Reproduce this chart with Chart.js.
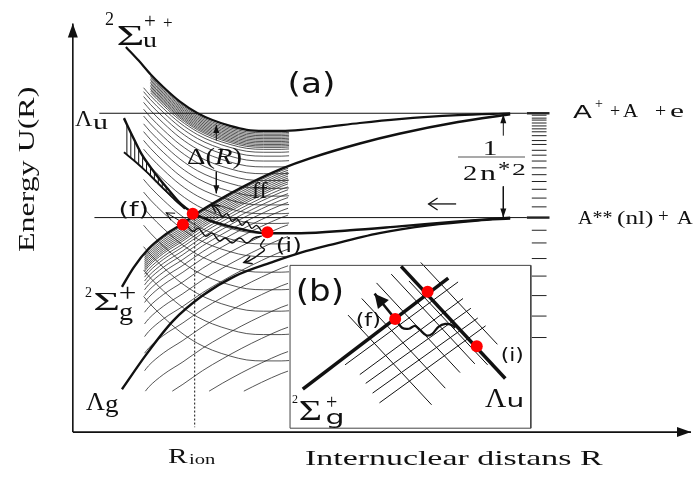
<!DOCTYPE html>
<html>
<head>
<meta charset="utf-8">
<script src="https://cdn.jsdelivr.net/npm/chart.js@4.4.1/dist/chart.umd.min.js"></script>
<style>html,body{margin:0;background:#fff}</style>
</head>
<body>
<canvas id="chart" width="698" height="481"></canvas>
<script>
// potential curves, as (R, U) pairs in diagram units
const sigmaU = [[122,42],[135,56],[147,70],[160,83],[177,98],[195,110],[210,117],[228,123],[245,127],[262,128],[280,128],[300,127],[327,124],[360,120],[400,116],[460,112],[513,110]];
const lambdaU = [[120,115],[128,132],[138,152],[152,172],[165,188],[178,203],[190,212],[205,219],[220,224],[240,229],[265,233],[300,233],[350,230],[400,226],[460,221],[513,217]];
const lambdaUInner = [[120,150],[132,160],[145,172],[158,185],[172,199],[182,208]];
const sigmaG = [[118,288],[130,268],[145,249],[160,236],[180,223],[200,209],[220,197],[240,186],[260,176],[280,167],[310,156],[360,141],[400,131],[460,119],[513,111]];
const lambdaG = [[118,393],[143,357],[170,323],[200,297],[233,277],[273,262],[300,253],[330,245],[380,233],[430,225],[480,220],[513,218]];

// energy levels: ionisation limit, A**(nl)+A limit, Rydberg ladder below the limit
const ionLimit = 110;
const atomLimit = 217;
const ladder = [0,2,5,7,10,13,16,19,23,28,32,38,43,49,56,63,70,78,87,96,107,120,133,149,167,187,208,230];

// Rydberg copies of the two ionic curves (shift below the curve)
const rydbergU = [2,3.5,5,6.5,8,9.5,11,12.5,14,15.5,17,19,22,26,31,37,44,51,59,67,76,85,95,105,116,129,145,163,185,209,236];
const rydbergG = [2,4,6,8,10,12,14,16,18,21,24,28,32,37,43,50,60,72,85,102,120,142,165,190,210];
const hatchR = [123,127,131,135,139,143,147,151,155,159,163,167,171,175,179];

// transition points and paths
const rIon = 192;
const crossings = [[190,213],[180,224],[266,232]];
const ffPath = [[260,231],[255,225],[250,228],[245,221],[240,225],[235,218],[230,221],[225,213],[220,216],[215,208],[209,204]];
const emitPath = [[184,225],[190,231],[196,228],[203,236],[210,233],[217,241],[223,238],[230,243],[238,238],[245,243],[252,238],[260,236]];
const downPath = [[263,239],[259,246],[263,250],[257,255],[253,258],[248,261],[242,263]];

// inset (b)
const insetSigma = [[302,393],[450,279]];
const insetLambda = [[402,267],[508,382]];
const insetDots = [[429,293],[396,321],[479,349]];
const insetPath = [[397,322],[403,330],[410,331],[416,328],[421,332],[428,338],[434,336],[440,329],[447,326],[453,327],[457,330]];
const insetGridA = [[[345,368],[460,283]],[[360,378],[465,300]],[[366,387],[473,310]],[[373,397],[480,320]],[[380,407],[488,328]]];
const insetGridB = [[[348,317],[433,409]],[[362,300],[447,392]],[[377,284],[462,376]],[[392,275],[477,367]],[[410,282],[490,368]],[[422,263],[500,347]]];

const xy = a => a.map(([x, y]) => ({x, y}));
const interp = (pts, x) => {
  for (let i = 0; i < pts.length - 1; i++) {
    const [x0, y0] = pts[i], [x1, y1] = pts[i + 1];
    if (x >= x0 && x <= x1) return y0 + (y1 - y0) * (x - x0) / (x1 - x0);
  }
  return null;
};
function shifted(base, dy, x0, x1, yMax) {
  const xs = [x0, ...base.map(p => p[0]).filter(x => x > x0 && x < x1), x1];
  const pts = xs.map(x => ({x, y: interp(base, x) + dy}));
  if (yMax === undefined) return pts;
  const out = [];
  pts.forEach((p, i) => {
    const q = pts[i - 1];
    if (q && (q.y > yMax) !== (p.y > yMax)) {
      const t = (yMax - q.y) / (p.y - q.y);
      out.push({x: q.x + t * (p.x - q.x), y: yMax});
    }
    if (p.y <= yMax) out.push(p);
  });
  return out;
}

const line = (data, o) => Object.assign({data, showLine: true, pointRadius: 0, borderColor: '#111', borderWidth: 1, tension: 0, fill: false}, o || {});
const curve = (data, w) => line(xy(data), {borderWidth: w, cubicInterpolationMode: 'monotone', order: 1});
const thin = {borderWidth: 0.8, borderColor: '#2a2a2a', cubicInterpolationMode: 'monotone', order: 3};

const datasets = [];
datasets.push({data: xy(crossings), showLine: false, pointRadius: 6, pointBackgroundColor: '#f00', pointBorderWidth: 0, order: 0});
datasets.push({data: xy(insetDots), showLine: false, pointRadius: 6, pointBackgroundColor: '#f00', pointBorderWidth: 0, order: 0});

datasets.push(curve(sigmaU, 2.2), curve(lambdaU, 2.4), curve(lambdaUInner, 1.8), curve(sigmaG, 2.4), curve(lambdaG, 2.4));

rydbergU.forEach(d => datasets.push(line(shifted(sigmaU, d, d < 20 ? 147 : 140, 288), thin)));
rydbergG.forEach(d => datasets.push(line(shifted(sigmaG, d, 141, 287, 395), thin)));
hatchR.forEach(r => datasets.push(line([{x: r, y: interp(lambdaUInner, r)}, {x: r, y: interp(lambdaU, r)}], {borderWidth: 1, order: 2})));

// reference levels and ladder
datasets.push(line([{x: 95, y: ionLimit}, {x: 530, y: ionLimit}], {borderWidth: 1, order: 2}));
datasets.push(line([{x: 90, y: atomLimit}, {x: 530, y: atomLimit}], {borderWidth: 1, order: 2}));
ladder.forEach(d => {
  const main = d === 0 || d === atomLimit - ionLimit;
  datasets.push(line([{x: main ? 530 : 535, y: ionLimit + d}, {x: main ? 553 : 550, y: ionLimit + d}], {borderWidth: main ? 2.4 : 1, borderColor: '#222', order: 2}));
});
datasets.push(line([{x: rIon, y: 218}, {x: rIon, y: 432}], {borderWidth: 1, borderDash: [2, 2], order: 2}));

// arrows
datasets.push(line([{x: 68, y: 437}, {x: 68, y: 18}], {borderWidth: 1.6, arrow: {len: 14, half: 5, fill: true}}));
datasets.push(line([{x: 68, y: 437}, {x: 697, y: 437}], {borderWidth: 1.6, arrow: {len: 14, half: 5, fill: true}}));
datasets.push(line([{x: 214, y: 138}, {x: 214, y: 122}], {borderWidth: 1, arrow: {len: 8, half: 3, fill: true}}));
datasets.push(line([{x: 214, y: 170}, {x: 214, y: 192}], {borderWidth: 1, arrow: {len: 8, half: 3, fill: true}}));
datasets.push(line([{x: 506, y: 133}, {x: 506, y: 111}], {borderWidth: 1, arrow: {len: 9, half: 3, fill: true}}));
datasets.push(line([{x: 506, y: 185}, {x: 506, y: 217}], {borderWidth: 1, arrow: {len: 9, half: 3, fill: true}}));
datasets.push(line([{x: 458, y: 203}, {x: 430, y: 203}], {borderWidth: 1.3, arrow: {len: 9, half: 6}}));
datasets.push(line([{x: 178, y: 221}, {x: 163, y: 212}], {borderWidth: 1, arrow: {len: 8, half: 4}}));
datasets.push(line(xy(ffPath), {borderWidth: 1.4, tension: 0.4, arrow: {len: 8, half: 4}}));
datasets.push(line(xy(emitPath), {borderWidth: 1.4, tension: 0.4}));
datasets.push(line(xy(downPath), {borderWidth: 1.4, tension: 0.4, arrow: {len: 8, half: 4}}));

// inset
datasets.push(line([{x: 289, y: 266}, {x: 534, y: 266}, {x: 534, y: 433}, {x: 289, y: 433}, {x: 289, y: 266}], {borderWidth: 1, borderColor: '#444', order: 2}));
datasets.push(line(xy(insetSigma), {borderWidth: 3.5, order: 1}));
datasets.push(line(xy(insetLambda), {borderWidth: 3.5, order: 1}));
insetGridA.concat(insetGridB).forEach(s => datasets.push(line(xy(s), {borderWidth: 1, order: 2})));
datasets.push(line([{x: 396, y: 321}, {x: 375, y: 295}], {borderWidth: 2.5, arrow: {len: 14, half: 7, fill: true}}));
datasets.push(line(xy(insetPath), {borderWidth: 2.2, tension: 0.3}));

const arrowHeads = {
  id: 'arrowHeads',
  afterDatasetsDraw(chart) {
    const ctx = chart.ctx;
    chart.data.datasets.forEach((ds, i) => {
      if (!ds.arrow) return;
      const pts = chart.getDatasetMeta(i).data;
      const a = pts[pts.length - 2], b = pts[pts.length - 1];
      const ang = Math.atan2(b.y - a.y, b.x - a.x);
      const {len, half, fill} = ds.arrow;
      ctx.save();
      ctx.translate(b.x, b.y); ctx.rotate(ang);
      ctx.beginPath(); ctx.moveTo(-len, -half); ctx.lineTo(0, 0); ctx.lineTo(-len, half);
      ctx.strokeStyle = '#111'; ctx.fillStyle = '#111'; ctx.lineWidth = ds.borderWidth;
      if (fill) { ctx.closePath(); ctx.fill(); } else ctx.stroke();
      ctx.restore();
    });
  }
};

const SERIF = 'Liberation Serif', SANS = 'DejaVu Sans';
function put(ctx, t, x, y, font, w, rot) {
  ctx.save();
  ctx.font = font; ctx.fillStyle = '#111'; ctx.textBaseline = 'alphabetic';
  const m = ctx.measureText(t);
  const ink = m.actualBoundingBoxRight + m.actualBoundingBoxLeft;
  const s = w ? w / ink : 1;
  ctx.translate(x, y);
  if (rot) ctx.rotate(rot);
  ctx.scale(s, 1);
  ctx.fillText(t, m.actualBoundingBoxLeft, 0);
  ctx.restore();
}
function runs(ctx, parts, x, y, w) {
  let total = 0;
  parts.forEach(([t, f]) => { ctx.font = f; total += ctx.measureText(t).width; });
  const s = w / total;
  ctx.save(); ctx.translate(x, y); ctx.scale(s, 1); ctx.fillStyle = '#111';
  let cx = 0;
  parts.forEach(([t, f]) => { ctx.font = f; ctx.fillText(t, cx, 0); cx += ctx.measureText(t).width; });
  ctx.restore();
}

const labels = {
  id: 'labels',
  afterDraw(chart) {
    const ctx = chart.ctx;
    const sf = px => px + 'px "' + SERIF + '"', ss = px => px + 'px "' + SANS + '"';
    // 2Σu+ +
    put(ctx, '2', 105, 25, sf(18));
    put(ctx, 'Σ', 118, 45, sf(30), 24);
    put(ctx, '+', 145, 28, sf(21));
    put(ctx, '+', 163, 28, sf(17));
    put(ctx, 'u', 143, 47, sf(22), 14);
    // Λu
    put(ctx, 'Λ', 75, 126, sf(24), 18);
    put(ctx, 'u', 93, 129, sf(22), 15);
    // 2Σg+
    put(ctx, '2', 85, 297, sf(14));
    put(ctx, 'Σ', 95, 310, sf(26), 23);
    put(ctx, '+', 120, 301, sf(25), 15);
    put(ctx, 'g', 120, 320, sf(26), 13);
    // Λg
    put(ctx, 'Λ', 86, 410, sf(26), 19);
    put(ctx, 'g', 106, 412, sf(25), 13);
    // panel labels
    put(ctx, '(a)', 290, 93, ss(28), 43);
    put(ctx, '(f)', 120, 216, ss(19), 27);
    put(ctx, '(i)', 277, 252, ss(19), 23);
    put(ctx, 'ff', 252, 198, sf(23), 16);
    runs(ctx, [['Δ(', sf(24)], ['R', 'italic ' + sf(24)], [')', sf(24)]], 187, 164, 55);
    // limits
    put(ctx, 'A', 573, 118, ss(18), 20);
    put(ctx, '+', 595, 108, sf(14), 8);
    put(ctx, '+', 610, 117, sf(18), 10);
    put(ctx, 'A', 623, 117, sf(18), 15);
    put(ctx, '+', 655, 117, sf(18), 11);
    put(ctx, 'e', 670, 117, sf(18), 14);
    put(ctx, 'A**', 578, 224, sf(19), 34);
    put(ctx, '(nl)', 617, 224, sf(19), 36);
    put(ctx, '+', 658, 222, sf(19), 10);
    put(ctx, 'A', 677, 224, sf(19), 16);
    // 1 / 2n*2
    put(ctx, '1', 484, 155, sf(22), 12);
    ctx.save(); ctx.strokeStyle = '#555'; ctx.lineWidth = 1.2;
    ctx.beginPath(); ctx.moveTo(458, 157); ctx.lineTo(525, 157); ctx.stroke(); ctx.restore();
    put(ctx, '2', 463, 180, sf(22), 13);
    put(ctx, 'n', 480, 180, sf(22), 16);
    put(ctx, '*', 499, 176, sf(22), 10);
    put(ctx, '2', 512, 175, sf(17), 13);
    // inset labels
    put(ctx, '(b)', 298, 301, ss(30), 44);
    put(ctx, '(f)', 357, 326, ss(17), 23);
    put(ctx, '(i)', 502, 361, ss(17), 21);
    put(ctx, 'Λ', 485, 407, sf(28), 22);
    put(ctx, 'u', 508, 407, ss(18), 14);
    put(ctx, '2', 292, 403, sf(12));
    put(ctx, 'Σ', 300, 420, sf(30), 20);
    put(ctx, '+', 327, 409, sf(20), 10);
    put(ctx, 'g', 327, 424, ss(20), 15);
    // axes titles
    put(ctx, 'R', 168, 463, sf(22), 20);
    put(ctx, 'ion', 189, 464, sf(15), 27);
    put(ctx, 'Internuclear distans R', 305, 465, sf(22), 298);
    put(ctx, 'Energy U(R)', 34, 252, sf(24), 164, -Math.PI / 2);
  }
};

new Chart(document.getElementById('chart'), {
  type: 'scatter',
  data: {datasets},
  options: {
    responsive: false,
    animation: false,
    devicePixelRatio: 1,
    events: [],
    layout: {padding: 0},
    plugins: {legend: {display: false}, tooltip: {enabled: false}},
    scales: {
      x: {type: 'linear', min: 0, max: 698, display: false},
      y: {type: 'linear', min: 0, max: 481, reverse: true, display: false}
    }
  },
  plugins: [arrowHeads, labels]
});
</script>
</body>
</html>
